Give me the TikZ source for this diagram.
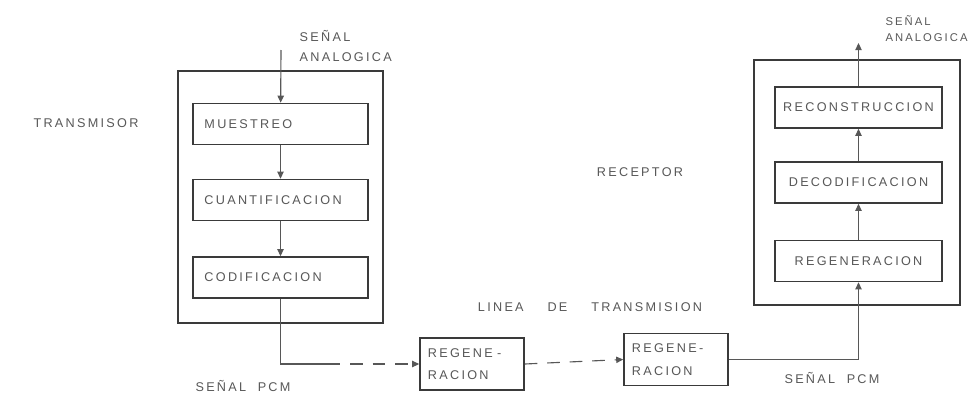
\documentclass[tikz,border=0pt]{standalone}
\usepackage{fontspec}
\newfontfamily\pcmhand[LetterSpace=18]{Liberation Sans}
\usepackage{tikz}
\usetikzlibrary{arrows.meta,positioning,calc}
\definecolor{pcmink}{HTML}{3A3A3A}
\definecolor{pcmsoft}{HTML}{575757}
\tikzset{
  % the two big housings
  pcm frame/.style={
    draw=pcmink, line width=1.6pt, inner sep=0pt,
  },
  % one processing stage inside a housing
  pcm stage/.style={
    draw=pcmink, line width=1.1pt, inner sep=0pt,
    minimum height=1.025cm, text=pcmsoft, font=\pcmhand\small,
  },
  pcm stage left/.style={
    pcm stage, minimum width=4.375cm, text width=3.8cm, align=left,
  },
  pcm stage right/.style={
    pcm stage, minimum width=4.175cm, align=center,
  },
  % the repeaters on the line
  pcm repeater/.style={
    draw=pcmink, line width=1.1pt, inner xsep=0.2cm, inner ysep=0pt,
    minimum height=1.3cm, text width=2.2cm, align=left,
    text=pcmsoft, font=\pcmhand\small,
  },
  % free lettering round the blocks
  pcm caption/.style={
    text=pcmsoft, font=\pcmhand\small, inner sep=1pt,
  },
  pcm wire/.style={
    draw=pcmsoft, line width=0.8pt,
  },
  pcm link/.style={
    pcm wire, -{Triangle[length=5pt,width=4.5pt]},
  },
  pcm dashes/.style={
    dash pattern=on 9pt off 7pt,
  },
}

\begin{document}
\begin{tikzpicture}[x=0.025cm,y=-0.025cm]
  \useasboundingbox (0,0) rectangle (978,395);

  % ---- transmitter ---------------------------------------------------------
  \node[pcm frame, minimum width=5.125cm, minimum height=6.3cm] (tx) at (280.5,197) {};
  \node[pcm stage left] (muestreo) at (280.5,124)   {MUESTREO};
  \node[pcm stage left] (cuant)    at (280.5,200)   {CUANTIFICACION};
  \node[pcm stage left] (codif)    at (280.5,277.5) {CODIFICACION};
  \node[pcm caption] (txname) at (86,123) {TRANSMISOR};
  \node[pcm caption,anchor=west,align=left] (txin) at (298,46)
    {SEÑAL\\[3pt]ANALOGICA};
  \coordinate (txsrc) at (281,50);

  % ---- receiver ------------------------------------------------------------
  \node[pcm frame, minimum width=5.15cm, minimum height=6.125cm] (rx) at (857,182.5) {};
  \node[pcm stage right] (recon)  at (858.5,107.5) {RECONSTRUCCION};
  \node[pcm stage right] (decod)  at (858.5,182.5) {DECODIFICACION};
  \node[pcm stage right] (regen)  at (858.5,261)   {REGENERACION};
  \node[pcm caption] (rxname) at (640,172) {RECEPTOR};
  \node[pcm caption,anchor=west,align=left,font=\pcmhand\footnotesize] (rxout) at (884,29)
    {SEÑAL\\[2pt]ANALOGICA};
  \coordinate (rxsink) at (858.5,43);

  % ---- the line with its repeaters -----------------------------------------
  \node[pcm repeater] (reg1) at (472,364)   {REGENE -\\[5pt]RACION};
  \node[pcm repeater] (reg2) at (676,359.5) {REGENE-\\[5pt]RACION};
  \node[pcm caption] (line)   at (590,307) {LINEA\hspace{17pt}DE\hspace{17pt}TRANSMISION};
  \node[pcm caption] (pcmtx)  at (243,386) {SEÑAL\ \ PCM};
  \node[pcm caption] (pcmrx)  at (832,378) {SEÑAL\ \ PCM};

  % ---- connectors ----------------------------------------------------------
  \draw[pcm link] (txsrc) -- (muestreo);
  \draw[pcm link] (muestreo) -- (cuant);
  \draw[pcm link] (cuant) -- (codif);

  \coordinate (txbend) at (codif.south |- reg1.west);
  \draw[pcm wire] (codif.south) -- (txbend) -- ++(47,0) coordinate (txdash);
  \draw[pcm link,pcm dashes] (txdash) -- (reg1.west);
  \draw[pcm link,pcm dashes] (reg1.east) -- (reg2.west);

  \coordinate (rxbend) at (regen.south |- reg2.east);
  \draw[pcm wire] (reg2.east) -- (rxbend);
  \draw[pcm link] (rxbend) -- (regen);
  \draw[pcm link] (regen) -- (decod);
  \draw[pcm link] (decod) -- (recon);
  \draw[pcm link] (recon) -- (rxsink);

\end{tikzpicture}
\end{document}
